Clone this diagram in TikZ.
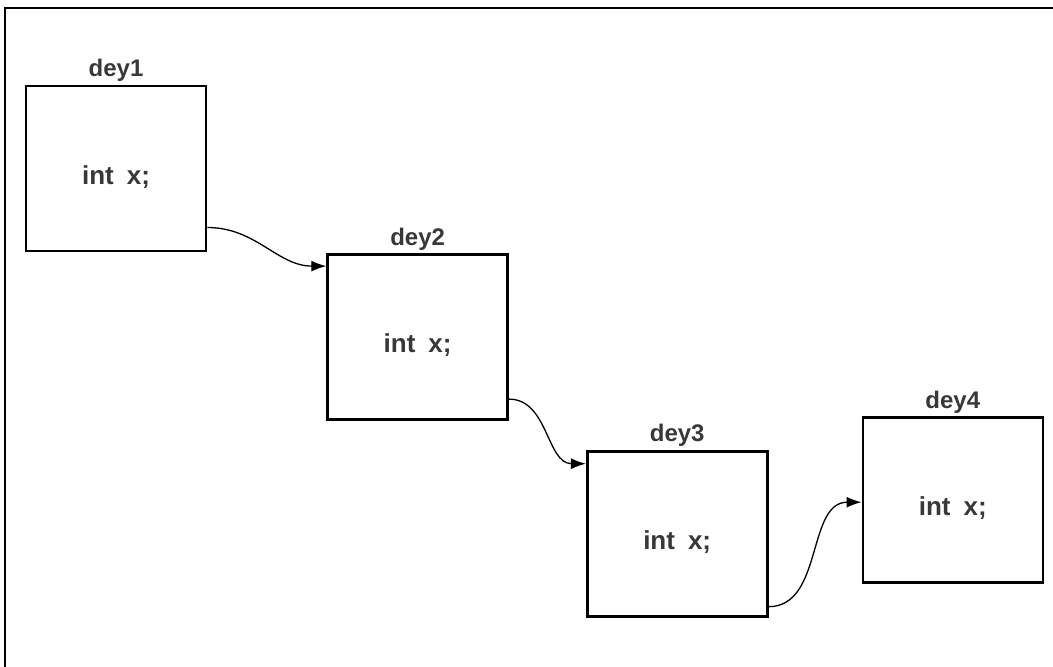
\documentclass[tikz,border=0pt]{standalone}
\usepackage{fontspec}
\setmainfont{Liberation Sans}
\usetikzlibrary{arrows.meta, positioning}
\definecolor{textgray}{HTML}{383838}
\tikzset{
    structbox/.style = {
        rectangle, 
        draw, 
        line width=2.6pt, 
        minimum width=180pt, 
        minimum height=165pt, 
        text height=31pt, 
        text depth=0pt, 
        font=\fontsize{26}{30}\selectfont\bfseries, 
        text=textgray
    },
    boxname/.style = {
        font=\fontsize{24}{28}\selectfont\bfseries, 
        text=textgray, 
        inner sep=0pt, 
        label distance=3pt
    },
    link/.style = {
        draw, 
        line width=1.3pt, 
        -{Latex[length=15pt,width=11pt]}
    }
}

\begin{document}
\begin{tikzpicture}[x=1pt, y=-1pt]

\useasboundingbox (0,0) rectangle (1053,667);

% Frame (only top and left edges are in view)
\draw [line width=1.5pt] (5,667) -- (5,8) -- (1053,8);

% Struct boxes
\node [structbox, label={[boxname]above:dey1}] (d1) at (116,168.5) {int\enspace x;};
\node [structbox, label={[boxname]above:dey2}, below right=1pt and 119pt of d1] (d2) {int\enspace x;};
\node [structbox, label={[boxname]above:dey3}, below right=29pt and 77pt of d2] (d3) {int\enspace x;};
\node [structbox, label={[boxname]above:dey4}, right=93pt of d3, yshift=33.5pt] (d4) {int\enspace x;};

% Links
\draw [link] ([yshift=-59pt]d1.east) to[out=0, in=180] ([yshift=71pt]d2.west);
\draw [link] ([yshift=-62pt]d2.east) to[out=0, in=180] ([yshift=70pt]d3.west);
\draw [link] ([yshift=-73pt]d3.east) to[out=0, in=180] ([yshift=-2pt]d4.west);

\end{tikzpicture}
\end{document}
